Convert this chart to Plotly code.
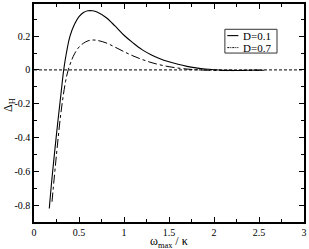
import plotly.graph_objects as go

omega_d01 = [0.17, 0.20, 0.25, 0.30, 0.33, 0.36, 0.40, 0.45, 0.50, 0.55, 0.60, 0.65, 0.70, 0.80,
             0.90, 1.00, 1.10, 1.20, 1.30, 1.40, 1.50, 1.60, 1.70, 1.80, 1.90, 2.00, 2.20, 2.40, 2.50]
delta_d01 = [-0.82, -0.64, -0.38, -0.14, 0.0, 0.10, 0.20, 0.27, 0.315, 0.34, 0.35, 0.35, 0.343, 0.31,
             0.26, 0.205, 0.16, 0.12, 0.09, 0.066, 0.048, 0.033, 0.021, 0.012, 0.005, 0.001, -0.003, -0.002, -0.001]

omega_d07 = [0.20, 0.25, 0.30, 0.35, 0.38, 0.42, 0.45, 0.50, 0.55, 0.60, 0.65, 0.70, 0.80, 0.90,
             1.00, 1.10, 1.20, 1.30, 1.40, 1.50, 1.60, 1.70, 1.80, 2.00, 2.20, 2.40, 2.57]
delta_d07 = [-0.78, -0.50, -0.25, -0.07, 0.0, 0.06, 0.095, 0.135, 0.158, 0.172, 0.177, 0.175, 0.16, 0.135,
             0.108, 0.083, 0.062, 0.044, 0.03, 0.019, 0.011, 0.005, 0.001, -0.003, -0.004, -0.003, -0.002]

series_names = ["D=0.1", "D=0.7"]
x_ticks = [0, 0.5, 1, 1.5, 2, 2.5, 3]
x_labels = ["0", "0.5", "1", "1.5", "2", "2.5", "3"]
y_ticks = [-0.8, -0.6, -0.4, -0.2, 0, 0.2]
y_labels = ["-0.8", "-0.6", "-0.4", "-0.2", "0", "0.2"]

font = "Liberation Serif, Times New Roman, serif"
styles = [dict(color="black", width=1.1), dict(color="black", width=1, dash="dashdot")]

fig = go.Figure()
fig.add_trace(go.Scatter(x=omega_d01, y=delta_d01, mode="lines", name=series_names[0],
                         line=dict(styles[0], shape="spline"), showlegend=False))
fig.add_trace(go.Scatter(x=omega_d07, y=delta_d07, mode="lines", name=series_names[1],
                         line=dict(styles[1], shape="spline"), showlegend=False))

fig.add_shape(type="line", xref="paper", yref="y", x0=0, x1=1, y0=0, y1=0,
              line=dict(color="black", width=1, dash="3px,2px"))

# legend box
fig.add_shape(type="rect", xref="paper", yref="paper", x0=0.707, x1=0.9, y0=0.775, y1=0.884,
              line=dict(color="#333333", width=1), fillcolor="white", layer="above")
for i, (name, st) in enumerate(zip(series_names, styles)):
    yy = 0.855 - i * 0.055
    fig.add_shape(type="line", xref="paper", yref="paper", x0=0.716, x1=0.757, y0=yy, y1=yy,
                  line=dict(color="black", width=st["width"], dash="2px,1px,1px,1px" if i else "solid"),
                  layer="above")
    fig.add_annotation(text=name, xref="paper", yref="paper", x=0.765, y=yy,
                       xanchor="left", yanchor="middle", showarrow=False,
                       font=dict(family=font, size=11))

fig.add_annotation(text="ω<sub>max</sub> / κ", xref="paper", yref="paper", x=0.5, y=-0.046,
                   xanchor="center", yanchor="top", showarrow=False,
                   font=dict(family=font, size=12))
fig.add_annotation(text="Δ<sub>H</sub>", xref="paper", yref="paper", x=-0.09, y=0.535,
                   xanchor="center", yanchor="middle", showarrow=False, textangle=-90,
                   font=dict(family=font, size=12))

fig.update_layout(
    width=309, height=249,
    margin=dict(l=34, r=5, t=4, b=27, autoexpand=False),
    paper_bgcolor="white", plot_bgcolor="white",
    font=dict(family=font, size=11, color="black"),
    showlegend=False,
)
fig.update_xaxes(range=[0, 3], tickvals=x_ticks, ticktext=x_labels, automargin=False,
                 ticks="inside", ticklen=5, tickwidth=1, tickcolor="black",
                 minor=dict(ticks="inside", dtick=0.25, ticklen=3, tickcolor="black"),
                 showline=True, linecolor="black", linewidth=1.5, mirror="allticks",
                 showgrid=False, zeroline=False,
                 tickfont=dict(family=font, size=10))
fig.update_yaxes(range=[-0.9, 0.39], tickvals=y_ticks, ticktext=y_labels, automargin=False,
                 ticks="inside", ticklen=5, tickwidth=1, tickcolor="black",
                 minor=dict(ticks="inside", dtick=0.1, ticklen=3, tickcolor="black"),
                 showline=True, linecolor="black", linewidth=1.5, mirror="allticks",
                 showgrid=False, zeroline=False,
                 tickfont=dict(family=font, size=10))

fig.write_html("out.html", config={"displayModeBar": False},
               post_script="document.body.style.margin='0';")
